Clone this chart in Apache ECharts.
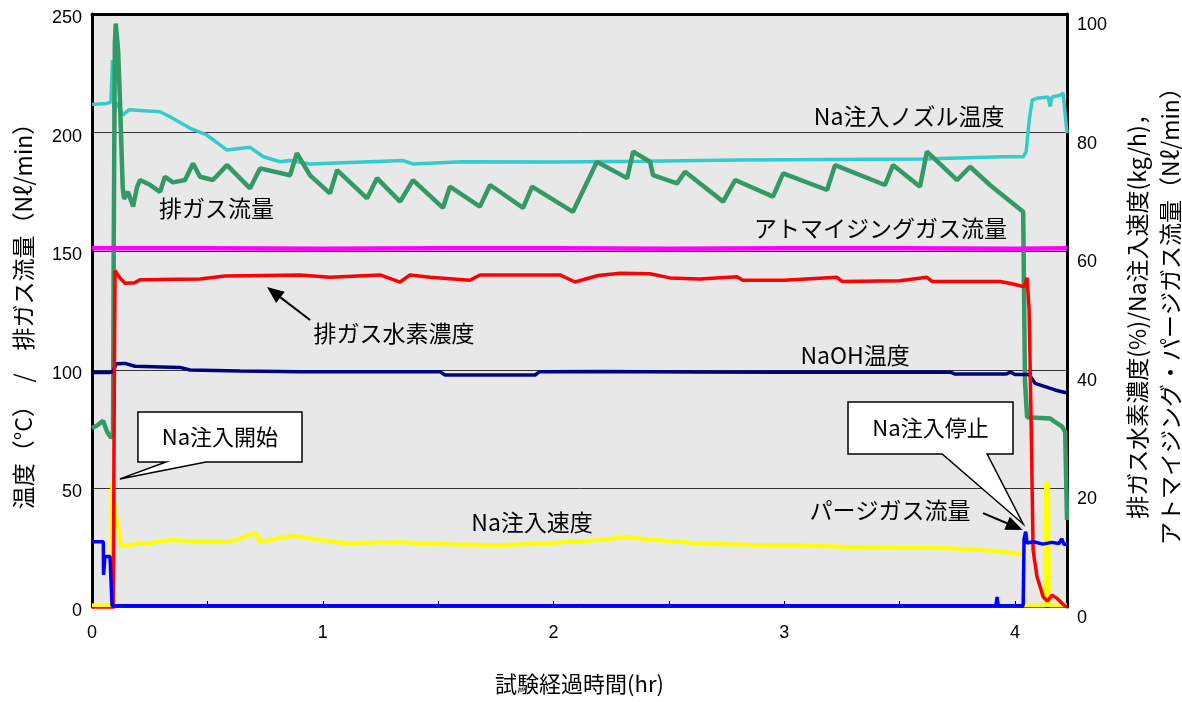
<!DOCTYPE html>
<html>
<head>
<meta charset="utf-8">
<script src="https://cdn.jsdelivr.net/npm/echarts@6/dist/echarts.min.js"></script>
<style>
html, body { margin: 0; padding: 0; background: #fff; }
#main { width: 1182px; height: 702px; }
</style>
</head>
<body>
<div id="main"></div>
<script>
// 試験経過時間(hr) と各計測値
// 左軸: 温度(°C) / 排ガス流量(Nℓ/min)
var gasFlow = [[0, 75.5], [0.022, 76.5], [0.048, 78.5], [0.065, 74], [0.082, 71.5], [0.091, 72], [0.094, 150],
  [0.099, 238], [0.103, 246], [0.113, 235], [0.121, 214], [0.133, 177], [0.139, 172], [0.156, 175], [0.178, 168.8],
  [0.195, 177], [0.208, 180], [0.251, 178], [0.295, 175], [0.316, 181.4], [0.351, 179], [0.403, 180], [0.438, 187],
  [0.468, 181.4], [0.524, 180], [0.585, 186.3], [0.685, 176.5], [0.728, 184.9], [0.858, 182], [0.888, 191.3],
  [0.945, 182], [1.031, 174.4], [1.062, 184.2], [1.192, 172.3], [1.235, 180.8], [1.335, 170.9], [1.391, 180],
  [1.521, 168.3], [1.551, 177.2], [1.681, 168.8], [1.725, 177.9], [1.868, 168.3], [1.907, 177.2], [2.084, 166.6],
  [2.188, 187.7], [2.319, 180.8], [2.345, 192], [2.418, 187.7], [2.431, 182.1], [2.535, 178.6], [2.570, 183.5],
  [2.735, 170.9], [2.787, 180], [2.951, 173], [2.995, 182.8], [3.185, 175.8], [3.220, 186.3], [3.436, 177.9],
  [3.471, 186.3], [3.588, 177.2], [3.618, 192], [3.749, 180], [3.805, 185.6], [3.891, 177.9], [4.035, 166.6],
  [4.043, 95], [4.052, 80], [4.152, 79.5], [4.173, 78], [4.204, 76], [4.217, 73.9], [4.225, 36.7]];

var nozzleTemp = [[0, 211.9], [0.065, 212.3], [0.082, 213], [0.089, 230.6], [0.096, 207.4], [0.104, 212.5],
  [0.113, 211.6], [0.134, 207.4], [0.16, 209.6], [0.295, 208.8], [0.338, 206.7], [0.425, 201.8], [0.497, 199],
  [0.584, 192.7], [0.685, 193.8], [0.743, 189.8], [0.815, 187.7], [0.858, 188.2], [0.945, 186.8], [1.348, 188.2],
  [1.391, 186.8], [1.6, 187.7], [2.0, 187.6], [2.4, 187.9], [2.8, 188.5], [3.2, 188.7], [3.6, 188.9], [3.948, 189.8],
  [4.035, 189.8], [4.048, 192], [4.061, 205], [4.074, 213.7], [4.095, 214.5], [4.143, 215], [4.152, 211],
  [4.160, 215], [4.195, 215.8], [4.208, 216.7], [4.225, 199.8]];

var naohTemp = [[0, 98.9], [0.078, 98.9], [0.091, 99.2], [0.104, 102.5], [0.143, 102.7], [0.186, 101.5],
  [0.381, 101], [0.425, 99.9], [0.641, 99.5], [0.9, 99.2], [1.508, 99.2], [1.53, 97.8], [1.92, 97.8], [1.94, 99.2],
  [2.2, 99.3], [2.6, 99.1], [3.0, 99], [3.72, 99], [3.74, 98.2], [3.96, 98.2], [3.98, 99], [4.0, 98], [4.06, 98],
  [4.087, 94.3], [4.13, 92.9], [4.173, 91.5], [4.221, 90.3]];

// 右軸: 排ガス水素濃度(%) / Na注入速度(kg/h) / アトマイジング・パージガス流量(Nℓ/min)
var h2Conc = [[0, -0.3], [0.092, -0.3], [0.097, 40], [0.100, 56.7], [0.108, 56.9], [0.121, 55.5], [0.143, 54.6],
  [0.186, 54.7], [0.208, 55.2], [0.468, 55.3], [0.576, 55.8], [0.901, 56], [1.031, 55.6], [1.248, 56],
  [1.335, 54.8], [1.378, 56], [1.465, 55.6], [1.638, 55.1], [1.681, 56], [2.028, 56], [2.093, 54.8], [2.193, 55.9],
  [2.289, 56.3], [2.418, 56.2], [2.505, 55.5], [2.635, 55.3], [2.795, 55.7], [2.82, 55.1], [3.0, 55.1],
  [3.228, 55.6], [3.25, 54.9], [3.5, 55], [3.618, 55.6], [3.64, 54.9], [3.935, 54.9], [3.987, 54.5], [4.039, 54],
  [4.052, 55.5], [4.061, 50], [4.070, 30], [4.078, 9.6], [4.095, 5.1], [4.122, 1.7], [4.140, 1.0], [4.160, 2.0],
  [4.180, 1.5], [4.212, 0.3], [4.225, 0]];

var naRate = [[0, 0.3], [0.085, 0.3], [0.087, 20.9], [0.100, 16.4], [0.113, 13.6], [0.126, 10.3], [0.165, 10.5],
  [0.251, 10.8], [0.338, 11.3], [0.438, 11.1], [0.598, 11.0], [0.711, 12.5], [0.728, 11.0], [0.871, 12.0],
  [0.988, 11.3], [1.088, 10.8], [1.335, 10.9], [1.551, 10.6], [1.768, 10.4], [1.985, 10.8], [2.201, 11.3],
  [2.310, 11.8], [2.418, 11.4], [2.635, 10.7], [2.852, 10.5], [3.068, 10.4], [3.285, 10.1], [3.501, 10.0],
  [3.718, 9.9], [3.935, 9.4], [4.035, 8.8], [4.039, 0.3], [4.130, 0.3], [4.134, 20.9], [4.143, 20.9],
  [4.147, 0.3], [4.225, 0.3]];

var atomGas = [[0, 60.5], [0.5, 60.5], [1.0, 60.4], [1.5, 60.5], [2.0, 60.5], [2.5, 60.4], [3.0, 60.5],
  [3.5, 60.5], [4.0, 60.4], [4.225, 60.5]];

var purgeFlow = [[0, 11.0], [0.049, 11.0], [0.050, 5.4], [0.056, 8.5], [0.078, 8.5], [0.087, 0.2], [3.917, 0.2],
  [3.922, 1.7], [3.927, 0.2], [4.035, 0.2], [4.039, 11.5], [4.046, 12.7], [4.052, 10.8], [4.08, 11.0],
  [4.12, 10.6], [4.16, 10.9], [4.19, 10.7], [4.203, 11.5], [4.212, 10.5], [4.225, 10.7]];

var jp = '"Noto Sans CJK JP", sans-serif';
var num = '"Liberation Sans", Arial, sans-serif';

var myChart = echarts.init(document.getElementById('main'));

function line(name, data, color, width, yIdx) {
  return {
    name: name, type: 'line', data: data, yAxisIndex: yIdx,
    showSymbol: false, symbol: 'none', animation: false,
    lineStyle: { color: color, width: width }
  };
}

var option = {
  backgroundColor: '#fff',
  animation: false,
  grid: {
    left: 92, right: 115, top: 14, bottom: 95, show: true, backgroundColor: '#e8e8e8', borderWidth: 0,
    outerBoundsMode: 'none'
  },
  xAxis: [{
    type: 'value', min: 0, max: 4.225, interval: 0.5,
    axisLine: { show: false },
    axisTick: { show: true, inside: true, length: 6, lineStyle: { color: '#000' } },
    splitLine: { show: false },
    axisLabel: {
      fontSize: 18, color: '#000', fontFamily: num, margin: 17,
      formatter: function (v) { return Number.isInteger(v) ? String(v) : ''; }
    },
    name: '試験経過時間(hr)', nameLocation: 'middle', nameGap: 66,
    nameTextStyle: { fontSize: 22, color: '#000', fontFamily: jp }
  }, {
    type: 'value', min: 0, max: 4.225, position: 'top',
    axisLine: { show: true, onZero: false, lineStyle: { color: '#000', width: 3 } },
    axisTick: { show: false }, axisLabel: { show: false }, splitLine: { show: false }
  }],
  yAxis: [{
    type: 'value', min: 0, max: 250, interval: 50, position: 'left',
    axisLine: { show: true, onZero: false, lineStyle: { color: '#000', width: 3 } },
    axisTick: { show: false },
    splitLine: { show: true, lineStyle: { color: '#333', width: 1 } },
    axisLabel: {
      margin: 10,
      formatter: function (v) { return '{t|' + v + '}'; },
      rich: { t: { fontSize: 18, color: '#000', fontFamily: num, padding: [8, 0, 0, 0] } }
    },
    name: '温度（°C）　/　排ガス流量（Nℓ/min）', nameLocation: 'middle', nameRotate: 90, nameGap: 57,
    nameTextStyle: { fontSize: 23, color: '#000', fontFamily: jp }
  }, {
    type: 'value', min: 0, max: 100, interval: 20, position: 'right',
    axisLine: { show: true, onZero: false, lineStyle: { color: '#000', width: 3 } },
    axisTick: { show: false },
    splitLine: { show: false },
    axisLabel: {
      margin: 10,
      formatter: function (v) { return '{t|' + v + '}'; },
      rich: { t: { fontSize: 18, color: '#000', fontFamily: num, padding: [22, 0, 0, 0] } }
    },
    name: '排ガス水素濃度(%)/Na注入速度(kg/h)，\nアトマイジング・パージガス流量（Nℓ/min）',
    nameLocation: 'middle', nameRotate: 90, nameGap: 54,
    nameTextStyle: { fontSize: 23, lineHeight: 33, color: '#000', fontFamily: jp }
  }],
  series: [
    line('Na注入ノズル温度', nozzleTemp, '#33cccc', 3.5, 0),
    line('排ガス流量', gasFlow, '#339966', 4.5, 0),
    line('アトマイジングガス流量', atomGas, '#ff00ff', 4.5, 1),
    line('NaOH温度', naohTemp, '#000080', 3.5, 0),
    line('Na注入速度', naRate, '#ffff00', 4, 1),
    line('排ガス水素濃度', h2Conc, '#ff0000', 3.5, 1),
    line('パージガス流量', purgeFlow, '#0000ff', 3.5, 1)
  ]
};
myChart.setOption(option);

// 注記（左軸の座標で配置）
var notes = [
  ['排ガス流量', 0.540, 168.1],
  ['Na注入ノズル温度', 3.541, 206.7],
  ['アトマイジングガス流量', 3.417, 159.6],
  ['排ガス水素濃度', 1.309, 115.4],
  ['NaOH温度', 3.307, 106.2],
  ['Na注入速度', 1.907, 35.8],
  ['パージガス流量', 3.458, 40.9]
];
var arrows = [
  [[0.945, 121.0], [0.758, 134.9]],
  [[3.861, 39.6], [4.033, 32.5]]
];
var callouts = [
  { text: 'Na注入開始', box: [0.199, 82.2, 0.910, 61.1], base: [0.321, 0.494], tip: [0.121, 54.0] },
  { text: 'Na注入停止', box: [3.276, 86.4, 3.991, 64.5], base: [3.684, 3.879], tip: [4.035, 35.0] }
];

function P(pt) { return myChart.convertToPixel({ xAxisIndex: 0, yAxisIndex: 0 }, pt); }

var g = [];
notes.forEach(function (n) {
  var p = P([n[1], n[2]]);
  g.push({
    type: 'text', x: p[0], y: p[1], z: 100,
    style: { text: n[0], fill: '#000', font: '23px ' + jp, align: 'center', verticalAlign: 'middle',
      textAlign: 'center', textVerticalAlign: 'middle' }
  });
});
arrows.forEach(function (a) {
  var p0 = P(a[0]), p1 = P(a[1]);
  var dx = p1[0] - p0[0], dy = p1[1] - p0[1], L = Math.sqrt(dx * dx + dy * dy);
  var ux = dx / L, uy = dy / L, hl = 17, hw = 7;
  var bx = p1[0] - ux * hl, by = p1[1] - uy * hl;
  g.push({ type: 'line', z: 100, shape: { x1: p0[0], y1: p0[1], x2: bx, y2: by }, style: { stroke: '#000', lineWidth: 2 } });
  g.push({ type: 'polygon', z: 100, shape: { points: [p1, [bx - uy * hw, by + ux * hw], [bx + uy * hw, by - ux * hw]] },
    style: { fill: '#000' } });
});
callouts.forEach(function (c) {
  var a = P([c.box[0], c.box[1]]), b = P([c.box[2], c.box[3]]);
  var b1 = P([c.base[0], c.box[3]]), b2 = P([c.base[1], c.box[3]]), t = P(c.tip);
  g.push({
    type: 'polygon', z: 100,
    shape: { points: [[a[0], a[1]], [b[0], a[1]], [b[0], b[1]], [b2[0], b[1]], t, [b1[0], b[1]], [a[0], b[1]]] },
    style: { fill: '#fff', stroke: '#000', lineWidth: 1.5 }
  });
  g.push({
    type: 'text', z: 101, x: (a[0] + b[0]) / 2, y: (a[1] + b[1]) / 2,
    style: { text: c.text, fill: '#000', font: '22px ' + jp, align: 'center', verticalAlign: 'middle',
      textAlign: 'center', textVerticalAlign: 'middle' }
  });
});
myChart.setOption({ graphic: g });
</script>
</body>
</html>
